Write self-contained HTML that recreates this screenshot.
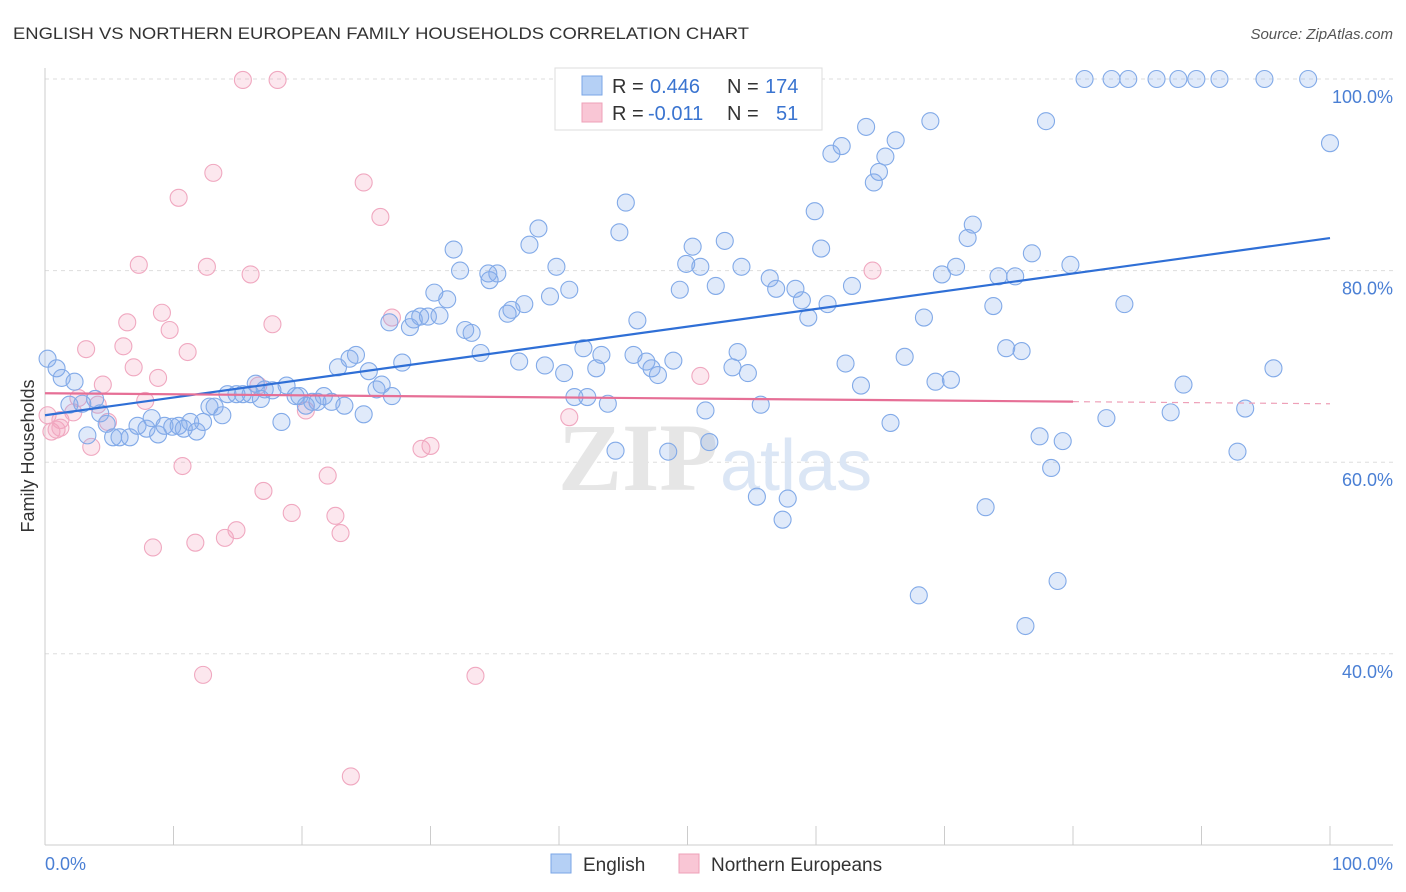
<!DOCTYPE html>
<html><head><meta charset="utf-8"><style>
body{margin:0;background:#fff;font-family:"Liberation Sans",sans-serif;}
svg{display:block}
</style></head><body>
<svg id="chart" width="1406" height="892">
<text x="13" y="39" font-size="17" fill="#333" textLength="736" lengthAdjust="spacingAndGlyphs">ENGLISH VS NORTHERN EUROPEAN FAMILY HOUSEHOLDS CORRELATION CHART</text>
<text x="1393" y="39" font-size="15" fill="#555" font-style="italic" text-anchor="end">Source: ZipAtlas.com</text>
<text transform="translate(34,456) rotate(-90)" font-size="18" fill="#333" text-anchor="middle">Family Households</text>
<g id="grid"></g>
<text x="718" y="490" font-size="96" font-family="Liberation Serif,serif" fill="#e6e6e6" text-anchor="end" font-weight="bold">ZIP</text>
<text x="720" y="490" font-size="72" fill="#dbe6f5">atlas</text>
<g id="pts"></g>
<g id="trend"></g>
<g>
<rect x="555" y="68" width="267" height="62" fill="#fff" stroke="#ddd"/>
<rect x="582" y="76" width="20" height="19" fill="#b5d0f5" stroke="#7aa6e6"/>
<rect x="582" y="103" width="20" height="19" fill="#f9c6d5" stroke="#eea0b8"/>
<text x="612" y="93" font-size="20" fill="#333">R = </text><text x="650" y="93" font-size="20" fill="#3a74d0">0.446</text>
<text x="727" y="93" font-size="20" fill="#333">N = </text><text x="765" y="93" font-size="20" fill="#3a74d0">174</text>
<text x="612" y="120" font-size="20" fill="#333">R = </text><text x="648" y="120" font-size="20" fill="#3a74d0">-0.011</text>
<text x="727" y="120" font-size="20" fill="#333">N = </text><text x="776" y="120" font-size="20" fill="#3a74d0">51</text>
</g>
<g>
<rect x="551" y="854" width="20" height="19" fill="#b5d0f5" stroke="#7aa6e6"/>
<text x="583" y="871" font-size="19" fill="#333">English</text>
<rect x="679" y="854" width="20" height="19" fill="#f9c6d5" stroke="#eea0b8"/>
<text x="711" y="871" font-size="19" fill="#333">Northern Europeans</text>
</g>
<text x="45" y="870" font-size="18" fill="#4a7fd4">0.0%</text>
<text x="1393" y="870" font-size="18" fill="#4a7fd4" text-anchor="end">100.0%</text>
</svg>
<script>
const yTicks=[100,80,60,40];
const yTickLabels=["100.0%","80.0%","60.0%","40.0%"];
const xTicks=[0,10,20,30,40,50,60,70,80,90,100];
const blueX=[0.2,0.9,1.3,2.3,1.9,3.9,2.9,4.3,3.3,4.8,5.3,5.8,6.6,7.2,7.9,8.3,8.8,9.3,9.9,10.4,10.8,11.3,11.8,12.3,12.8,13.2,13.8,14.2,14.9,15.4,16.0,16.4,16.8,17.1,17.7,18.4,18.8,19.5,19.8,20.3,20.8,21.2,21.7,22.3,22.8,23.3,23.7,24.2,24.8,25.2,25.8,26.2,27.0,27.8,26.8,28.4,28.7,29.2,29.8,30.7,30.3,31.3,32.7,33.2,33.9,31.8,32.3,34.5,35.2,34.6,36.0,36.3,36.9,37.3,37.7,38.4,38.9,39.3,39.8,40.4,40.8,41.2,41.9,42.2,42.9,43.3,43.8,44.4,44.7,45.2,45.8,46.1,46.8,47.2,47.7,48.5,48.9,49.4,49.9,50.4,51.0,51.4,51.7,52.2,52.9,53.5,53.9,54.2,54.7,55.4,55.7,56.4,56.9,57.4,57.8,58.4,58.9,59.4,59.9,60.4,60.9,61.2,62.0,62.3,62.8,63.5,63.9,64.5,64.9,65.4,65.8,66.2,66.9,68.0,68.4,68.9,69.3,69.8,70.5,70.9,71.8,72.2,73.2,73.8,74.2,74.8,75.5,76.0,76.8,77.4,77.9,78.3,78.8,79.2,76.3,79.8,80.9,83.0,84.3,86.5,88.2,89.6,91.4,94.9,98.3,82.6,84.0,87.6,88.6,92.8,93.4,95.6,100];
const blueY=[70.8,69.8,68.8,68.4,66.0,66.6,66.1,65.1,62.8,64.0,62.6,62.6,62.6,63.8,63.5,64.6,62.9,63.8,63.7,63.8,63.5,64.2,63.2,64.2,65.8,65.8,64.9,67.1,67.1,67.1,67.1,68.2,66.6,67.6,67.5,64.2,68.0,66.9,66.9,65.9,66.3,66.3,66.9,66.3,69.9,65.9,70.8,71.2,65.0,69.5,67.6,68.1,66.9,70.4,74.6,74.1,74.9,75.2,75.2,75.3,77.7,77.0,73.8,73.5,71.4,82.2,80.0,79.7,79.7,79.0,75.5,75.9,70.5,76.5,82.7,84.4,70.1,77.3,80.4,69.3,78.0,66.8,71.9,66.8,69.8,71.2,66.1,61.2,84.0,87.1,71.2,74.8,70.5,69.8,69.1,61.1,70.6,78.0,80.7,82.5,80.4,65.4,62.1,78.4,83.1,69.9,71.5,80.4,69.3,56.4,66.0,79.2,78.1,54.0,56.2,78.1,76.9,75.1,86.2,82.3,76.5,92.2,93.0,70.3,78.4,68.0,95.0,89.2,90.3,91.9,64.1,93.6,71.0,46.1,75.1,95.6,68.4,79.6,68.6,80.4,83.4,84.8,55.3,76.3,79.4,71.9,79.4,71.6,81.8,62.7,95.6,59.4,47.6,62.2,42.9,80.6,100,100,100,100,100,100,100,100,100,64.6,76.5,65.2,68.1,61.1,65.6,69.8,93.3];
const pinkX=[0.2,0.5,0.9,1.2,2.2,2.6,3.2,3.6,4.1,4.5,4.9,6.1,6.4,6.9,7.3,7.8,8.4,8.8,9.1,9.7,10.4,10.7,11.1,11.7,12.3,12.6,13.1,14.0,14.9,15.4,16.0,16.6,17.0,17.7,18.1,19.2,20.3,22.0,22.6,23.0,23.8,24.8,26.1,27.0,29.3,30.0,33.5,40.8,51.0,64.4,1.2];
const pinkY=[64.9,63.2,63.4,64.4,65.2,66.7,71.8,61.6,66.0,68.1,64.2,72.1,74.6,69.9,80.6,66.4,51.1,68.8,75.6,73.8,87.6,59.6,71.5,51.6,37.8,80.4,90.2,52.1,52.9,99.9,79.6,68.0,57.0,74.4,99.9,54.7,65.4,58.6,54.4,52.6,27.2,89.2,85.6,75.1,61.4,61.7,37.7,64.7,69.0,80.0,63.6];
const blueTrend=[64.9,83.4];
const pinkTrend=[67.2,66.1];
const NS="http://www.w3.org/2000/svg";
const X0=45,X1=1330,Y100=79,PXPER=9.58;
function sx(v){return X0+(X1-X0)*v/100;}
function sy(v){return Y100+(100-v)*PXPER;}
function mk(tag,attrs,parent){const e=document.createElementNS(NS,tag);for(const k in attrs)e.setAttribute(k,attrs[k]);parent.appendChild(e);return e;}
const grid=document.getElementById('grid');
yTicks.forEach((t,i)=>{
  const l=mk('line',{x1:45,x2:1393,y1:sy(t),y2:sy(t),stroke:'#ddd','stroke-dasharray':'4,4'},grid);
  
  
  const tx=mk('text',{x:1393,y:sy(t)+24,'font-size':18,fill:'#4a7fd4','text-anchor':'end'},grid);
  tx.textContent=yTickLabels[i];
  
  
});
const ax=mk('line',{x1:45,x2:45,y1:68,y2:845,stroke:'#ccc'},grid);


const bx=mk('line',{x1:45,x2:1393,y1:845,y2:845,stroke:'#ccc'},grid);


xTicks.forEach(t=>{
  const l=mk('line',{x1:sx(t),x2:sx(t),y1:826,y2:845,stroke:'#ccc'},grid);
  
  
});
const pts=document.getElementById('pts');
pinkX.forEach((x,i)=>{
  const c=mk('circle',{cx:sx(x),cy:sy(pinkY[i]),r:8.5,fill:'rgba(244,160,188,0.25)',stroke:'#f0a8c0','stroke-width':1.1},pts);
  
  
});
blueX.forEach((x,i)=>{
  const c=mk('circle',{cx:sx(x),cy:sy(blueY[i]),r:8.5,fill:'rgba(130,170,235,0.25)',stroke:'#82aae8','stroke-width':1.1},pts);
  
  
});
const tr=document.getElementById('trend');
const bl=mk('line',{x1:sx(0),y1:sy(blueTrend[0]),x2:sx(100),y2:sy(blueTrend[1]),stroke:'#2f6fd6','stroke-width':2.2},tr);


const pm=pinkTrend[0]+(pinkTrend[1]-pinkTrend[0])*0.8;
const pl=mk('line',{x1:sx(0),y1:sy(pinkTrend[0]),x2:sx(80),y2:sy(pm),stroke:'#e66f96','stroke-width':2.2},tr);


const pd=mk('line',{x1:sx(80),y1:sy(pm),x2:sx(100),y2:sy(pinkTrend[1]),stroke:'#eea0b8','stroke-width':1.2,'stroke-dasharray':'6,5'},tr);


</script>
</body></html>
